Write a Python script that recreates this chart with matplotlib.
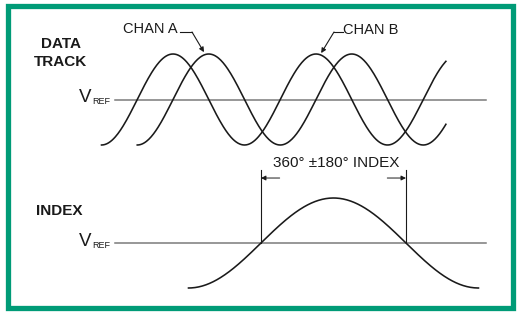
import matplotlib.pyplot as plt
import numpy as np
from matplotlib.patches import Rectangle

plt.rcParams['font.family'] = ['Liberation Sans', 'DejaVu Sans']

# Waveform description (x in electrical degrees, y in units of amplitude, VREF = 0)
chan_names = ['CHAN B', 'CHAN A']
chan_peak_deg = [0, 90]          # channel A lags channel B by 90 degrees
chan_start_deg = [-180, -90]
chan_end_deg = [687, 687]
data_period = 360

index_period = 730
index_peak_deg = 404
index_start_deg = 39
index_end_deg = 769

vref_span = [-146, 788]
index_label = '360° ±180° INDEX'

# pixel layout of the picture
W, H = 518, 317
px_per_deg = 143 / 360
deg0_px = 173

fig = plt.figure(figsize=(W / 100, H / 100), dpi=100)
fig.patch.set_facecolor('white')

# overlay axes in pixel units for frame and labels
pa = fig.add_axes([0, 0, 1, 1])
pa.set_xlim(0, W)
pa.set_ylim(H, 0)
pa.axis('off')
pa.add_patch(Rectangle((7.5, 5.5), 505, 302.5, fill=False, ec='#009b77', lw=3.8, joinstyle='miter'))


def wave_axes(vref_px, amp_px):
    ax = fig.add_axes([0, 0, 1, 1])
    ax.set_xlim(-deg0_px / px_per_deg, (W - deg0_px) / px_per_deg)
    ax.set_ylim((vref_px - H) / amp_px, vref_px / amp_px)
    ax.axis('off')
    ax.patch.set_alpha(0)
    return ax


ink = '#1a1a1a'
grey = '#7a7a7a'

# data track
top = wave_axes(99.5, 45.5)
top.plot(vref_span, [0, 0], color=grey, lw=1.1)
for peak, start, end in zip(chan_peak_deg, chan_start_deg, chan_end_deg):
    x = np.linspace(start, end, 400)
    top.plot(x, np.cos(2 * np.pi * (x - peak) / data_period), color=ink, lw=1.15)

# index track
bot = wave_axes(243, 45)
bot.plot(vref_span, [0, 0], color=grey, lw=1.1)
x = np.linspace(index_start_deg, index_end_deg, 400)
bot.plot(x, np.cos(2 * np.pi * (x - index_peak_deg) / index_period), color=ink, lw=1.15)

cross_l = index_peak_deg - index_period / 4
cross_r = index_peak_deg + index_period / 4
for cx in (cross_l, cross_r):
    bot.plot([cx, cx], [0, 1.62], color=ink, lw=0.8)
arrow = dict(arrowstyle='-|>', color=ink, lw=0.7, mutation_scale=7, shrinkA=0, shrinkB=0)
bot.annotate('', xy=(cross_l, 1.444), xytext=(cross_l + 47, 1.444), arrowprops=arrow)
bot.annotate('', xy=(cross_r, 1.444), xytext=(cross_r - 47, 1.444), arrowprops=arrow)
bot.text(index_peak_deg + 6, 1.78, index_label, ha='center', va='center', fontsize=11, color=ink)

# channel labels with leaders
leader = dict(arrowstyle='-|>', color=ink, lw=0.8, mutation_scale=7, shrinkA=0, shrinkB=0)
pa.text(123, 33, chan_names[1], fontsize=10.5, color=ink, va='baseline')
pa.plot([180, 192], [32, 32], color=ink, lw=0.8)
top.annotate('', xy=(78, 1.04), xytext=(192, 32), textcoords=pa.transData, arrowprops=leader)

pa.text(343, 34, chan_names[0], fontsize=10.5, color=ink, va='baseline')
pa.plot([334, 343], [32, 32], color=ink, lw=0.8)
top.annotate('', xy=(373, 1.02), xytext=(334, 32), textcoords=pa.transData, arrowprops=leader)

# side labels
pa.text(61, 48, 'DATA', fontsize=11, fontweight='bold', ha='center', va='baseline', color=ink)
pa.text(61, 66, 'TRACK', fontsize=11, fontweight='bold', ha='center', va='baseline', color=ink)
pa.text(36, 215, 'INDEX', fontsize=11, fontweight='bold', va='baseline', color=ink)

for vy in (99.5, 243):
    pa.text(79, vy + 3, 'V', fontsize=13.5, va='baseline', color=ink)
    pa.text(92, vy + 4.5, 'REF', fontsize=6.5, va='baseline', color=ink)

fig.savefig('out.png', dpi=100)
